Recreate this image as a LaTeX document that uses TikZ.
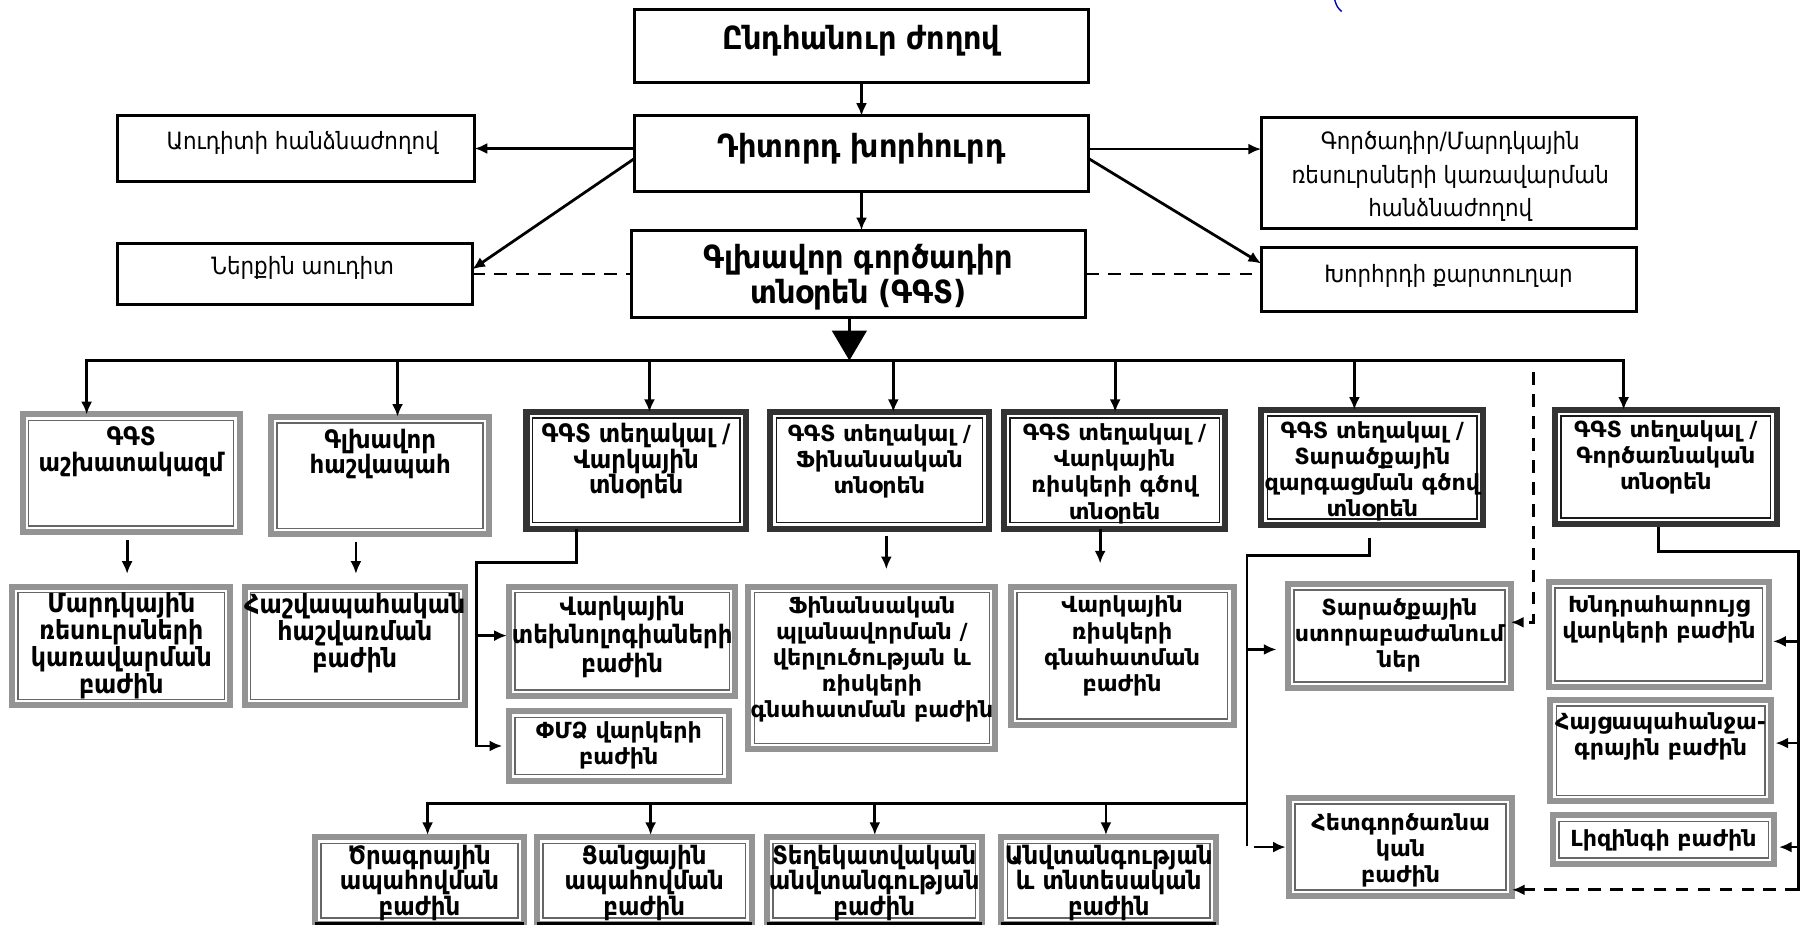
\documentclass[tikz,border=0pt]{standalone}
\usepackage{fontspec}
\setmainfont{DejaVu Sans}
\newfontfamily\cn{DejaVu Sans Condensed}[BoldFont={DejaVu Sans Condensed Bold}]
\usetikzlibrary{arrows.meta,calc}
\tikzset{
  ln/.style={line width=1.2pt, line cap=rect},
  arr/.style={line width=1.2pt, -{Latex[length=5.5pt,width=4.8pt]}},
  darr/.style={arr, dash pattern=on 5.5pt off 4pt},
  dln/.style={line width=1.2pt, dash pattern=on 5.5pt off 4pt},
  plainbox/.style={draw=black, line width=1.3pt, fill=white, inner sep=0pt, outer sep=0pt},
  bandbox/.style 2 args={draw=#1, line width=2.6pt, fill=white, inner sep=0pt, outer sep=0pt,
    path picture={\draw[#2, line width=0.7pt] ([shift={(2.6pt,2.6pt)}]path picture bounding box.south west) rectangle ([shift={(-2.6pt,-2.6pt)}]path picture bounding box.north east);}},
  lbox/.style={bandbox={black!42}{black!60}},
  dbox/.style={bandbox={black!80}{black!90}},
  tA/.style={font=\cn\bfseries\fontsize{13.8}{15}\selectfont, align=center, inner sep=0pt},
  tU/.style={font=\cn\fontsize{10.3}{14.5}\selectfont, align=center, inner sep=0pt},
  tW/.style={font=\bfseries\fontsize{9.6}{11.3}\selectfont, align=center, inner sep=0pt},
  tN/.style={font=\cn\bfseries\fontsize{11}{11}\selectfont, align=center, inner sep=0pt},
  tL/.style={font=\cn\bfseries\fontsize{11.4}{11.7}\selectfont, align=center, inner sep=0pt},
}
\newcommand\mkp[5]{\node[plainbox, minimum width={(#4-#2)*0.5pt-1.3pt}, minimum height={(#5-#3)*0.5pt-1.3pt}] (#1) at ({(#2+#4)/2},{(#3+#5)/2}) {};}
\newcommand\mkb[6]{\node[#2, minimum width={(#5-#3)*0.5pt-2.6pt}, minimum height={(#6-#4)*0.5pt-2.6pt}] (#1) at ({(#3+#5)/2},{(#4+#6)/2}) {};}
\begin{document}
\begin{tikzpicture}[x=0.5pt,y=-0.5pt]
\useasboundingbox (0,0) rectangle (1568,800);
\clip (0,0) rectangle (1568,800);
\fill[white] (0,0) rectangle (1568,800);
% top level
\mkp{A}{548}{7}{943}{73}
\mkp{B}{548}{99}{943}{167}
\mkp{C}{545}{198}{941}{276}
\mkp{AUD}{100}{99}{412}{158}
\mkp{NER}{100}{209}{410}{265}
\mkp{GOR}{1090}{100}{1417}{199}
\mkp{KAR}{1090}{213}{1417}{271}
% second row
\mkb{R1}{lbox}{17}{356}{210}{463}
\mkb{R2}{lbox}{232}{358}{426}{465}
\mkb{R3}{dbox}{453}{354}{648}{460}
\mkb{R4}{dbox}{664}{354}{858}{460}
\mkb{R5}{dbox}{866}{354}{1063}{460}
\mkb{R6}{dbox}{1089}{352}{1286}{457}
\mkb{R7}{dbox}{1343}{352}{1540}{456}
% third row
\mkb{C1}{lbox}{8}{505}{202}{613}
\mkb{C2}{lbox}{209}{505}{405}{613}
\mkb{C3a}{lbox}{438}{505}{639}{605}
\mkb{C3b}{lbox}{438}{613}{633}{678}
\mkb{C4}{lbox}{645}{505}{864}{651}
\mkb{C5}{lbox}{872}{505}{1070}{630}
\mkb{C6a}{lbox}{1112}{503}{1310}{598}
\mkb{C6b}{lbox}{1113}{688}{1311}{778}
\mkb{C7a}{lbox}{1338}{501}{1533}{597}
\mkb{C7b}{lbox}{1339}{603}{1535}{696}
\mkb{C7c}{lbox}{1341}{703}{1538}{750}
% bottom row
\mkb{D1}{lbox}{270}{722}{456}{802}
\mkb{D2}{lbox}{462}{722}{653}{802}
\mkb{D3}{lbox}{661}{722}{852}{802}
\mkb{D4}{lbox}{864}{722}{1055}{802}
\foreach \d in {D1,D2,D3,D4} \draw[line width=1.8pt] (\d.south west) -- (\d.south east);
% texts
\node[tA] (At) at (745.5,35) {Ընդհանուր ժողով};
\node[tA] (Bt) at (745.5,129) {Դիտորդ խորհուրդ};
\node[tA] (Ct) at (743,240) {Գլխավոր գործադիր\\տնօրեն (ԳԳՏ)};
\node[tU] (AUDt) at (262,124) {Աուդիտի հանձնաժողով};
\node[tU] (NERt) at (262,232) {Ներքին աուդիտ};
\node[tU] (GORt) at (1255,153) {Գործադիր/Մարդկային\\ռեսուրսների կառավարման\\հանձնաժողով};
\node[tU] (KARt) at (1253.5,239) {Խորհրդի քարտուղար};
\node[tN] (R1t) at (113.5,391) {ԳԳՏ\\աշխատակազմ};
\node[tN] (R2t) at (329,393) {Գլխավոր\\հաշվապահ};
\node[tN] (R3t) at (550.5,399) {ԳԳՏ տեղակալ /\\Վարկային\\տնօրեն};
\node[tW] (R4t) at (761,399) {ԳԳՏ տեղակալ /\\Ֆինանսական\\տնօրեն};
\node[tW] (R5t) at (964.5,410) {ԳԳՏ տեղակալ /\\Վարկային\\ռիսկերի գծով\\տնօրեն};
\node[tW] (R6t) at (1187.5,408) {ԳԳՏ տեղակալ /\\Տարածքային\\զարգացման գծով\\տնօրեն};
\node[tW] (R7t) at (1441.5,396) {ԳԳՏ տեղակալ /\\Գործառնական\\տնօրեն};
\node[tL] (C1t) at (105,559) {Մարդկային\\ռեսուրսների\\կառավարման\\բաժին};
\node[tL] (C2t) at (307,548) {Հաշվապահական\\հաշվառման\\բաժին};
\node[tN, font=\cn\bfseries\fontsize{11}{12.3}\selectfont] (C3at) at (538.5,551) {Վարկային\\տեխնոլոգիաների\\բաժին};
\node[tW] (C3bt) at (535.5,645) {ՓՄՁ վարկերի\\բաժին};
\node[tW] (C4t) at (754.5,570.5) {Ֆինանսական\\պլանավորման /\\վերլուծության և\\ռիսկերի\\գնահատման բաժին};
\node[tW] (C5t) at (971,559) {Վարկային\\ռիսկերի\\գնահատման\\բաժին};
\node[tW] (C6at) at (1211,549.5) {Տարածքային\\ստորաբաժանում\\ներ};
\node[tW] (C6bt) at (1212,736) {Հետգործառնա\\կան\\բաժին};
\node[tW] (C7at) at (1435.5,536) {Խնդրահարույց\\վարկերի բաժին};
\node[tW] (C7bt) at (1437,637) {Հայցապահանջա-\\գրային բաժին};
\node[tW] (C7ct) at (1439.5,727) {Լիզինգի բաժին};
\node[tN] (D1t) at (363,764) {Ծրագրային\\ապահովման\\բաժին};
\node[tN] (D2t) at (557.5,764) {Ցանցային\\ապահովման\\բաժին};
\node[tN] (D3t) at (756.5,764) {Տեղեկատվական\\անվտանգության\\բաժին};
\node[tN] (D4t) at (959.5,764) {Անվտանգության\\և տնտեսական\\բաժին};
% top connectors
\draw[arr] (A.south) -- (B.north);
\draw[arr] (B.south) -- (B.south |- C.north);
\draw[arr] (B.west |- AUD.east) -- (AUD.east);
\draw[arr] ($(B.west)+(0,4)$) -- ($(NER.east)+(0,-4)$);
\draw[dln] (NER.east) -- (NER.east -| C.west);
\draw[arr] ($(B.east)+(0,-4)$) -- ($(GOR.west)+(0,-20.5)$);
\draw[arr] ($(B.east)+(0,4)$) -- ($(KAR.west)+(0,-14)$);
\draw[dln] (C.east) -- (C.east -| KAR.west);
\coordinate (tri) at (735,312);
\draw[line width=1.2pt, -{Triangle[length=13pt,width=15pt]}] (C.south -| tri) -- (tri);
% main bus
\coordinate (d1) at (75,312);
\coordinate (d2) at (344,312);
\coordinate (d3) at (562,312);
\coordinate (d4) at (773,312);
\coordinate (d5) at (965,312);
\coordinate (d6) at (1172,312);
\coordinate (d7) at (1405,312);
\draw[ln] (d1) -- (d7);
\foreach \i/\r in {1/R1,2/R2,3/R3,4/R4,5/R5,6/R6,7/R7} \draw[arr] (d\i) -- (d\i |- \r.north);
% row2 to row3
\coordinate (r1) at ($(R1.south)+(-3.5,0)$);
\draw[arr, shorten <=3.5pt, shorten >=5.5pt] (r1) -- (r1 |- C1.north);
\coordinate (r2) at ($(R2.south)+(-21,0)$);
\draw[arr, shorten <=3.5pt, shorten >=5.5pt] (r2) -- (r2 |- C2.north);
\coordinate (r4) at ($(R4.south)+(6,0)$);
\draw[arr, shorten <=3pt, shorten >=7.5pt] (r4) -- (r4 |- C4.north);
\coordinate (r5) at ($(R5.south)+(-12.5,0)$);
\draw[arr, shorten >=10pt] (r5) -- (r5 |- C5.north);
% credit director branch
\coordinate (r3) at ($(R3.south)+(-51.5,0)$);
\coordinate (j3) at (412,487);
\draw[arr, shorten >=3pt] (r3) |- (j3) |- (C3b.west);
\coordinate (j3a) at (412,550);
\draw[arr, shorten >=1pt] (j3a) -- (j3a -| C3a.west);
% regional branch
\coordinate (r6) at ($(R6.south)+(-2.5,12)$);
\coordinate (j6) at (1079,481);
\coordinate (j6e) at (1079,731);
\draw[ln] (r6) |- (j6) -- (j6e);
\coordinate (k1) at (1079,562);
\draw[arr, shorten >=5pt] (k1) -- (k1 -| C6a.west);
\coordinate (k2) at (1079,733);
\draw[arr, shorten <=3pt, shorten >=1.5pt] (k2) -- (k2 -| C6b.west);
\coordinate (k0) at (1079,695);
\coordinate (e1) at (370,695);
\coordinate (e2) at (563,695);
\coordinate (e3) at (757,695);
\coordinate (e4) at (957,695);
\draw[ln] (k0) -- (e1);
\foreach \i in {1,...,4} \draw[arr, shorten >=1pt] (e\i) -- (e\i |- D\i.north);
% dashed link
\coordinate (q0) at (1327,322);
\draw[darr] (q0) |- ($(C6a.east)+(0,-12)$);
% operations branch
\coordinate (r7) at ($(R7.south)+(-6.5,4)$);
\coordinate (m1) at (1556,477);
\coordinate (m2) at (1556,770);
\draw[ln] (r7) |- (m1) -- (m2);
\coordinate (n1) at (1556,555);
\coordinate (n2) at (1556,643);
\coordinate (n3) at (1556,733);
\foreach \i/\c in {1/C7a,2/C7b,3/C7c} \draw[arr, shorten >=2pt] (n\i) -- (n\i -| \c.east);
\draw[darr] (m2) -- (m2 -| C6b.east);
% pen mark
\draw[blue!70!black, line width=0.6pt] (1155,0) .. controls (1157,6) .. (1161,10);
\end{tikzpicture}
\end{document}
